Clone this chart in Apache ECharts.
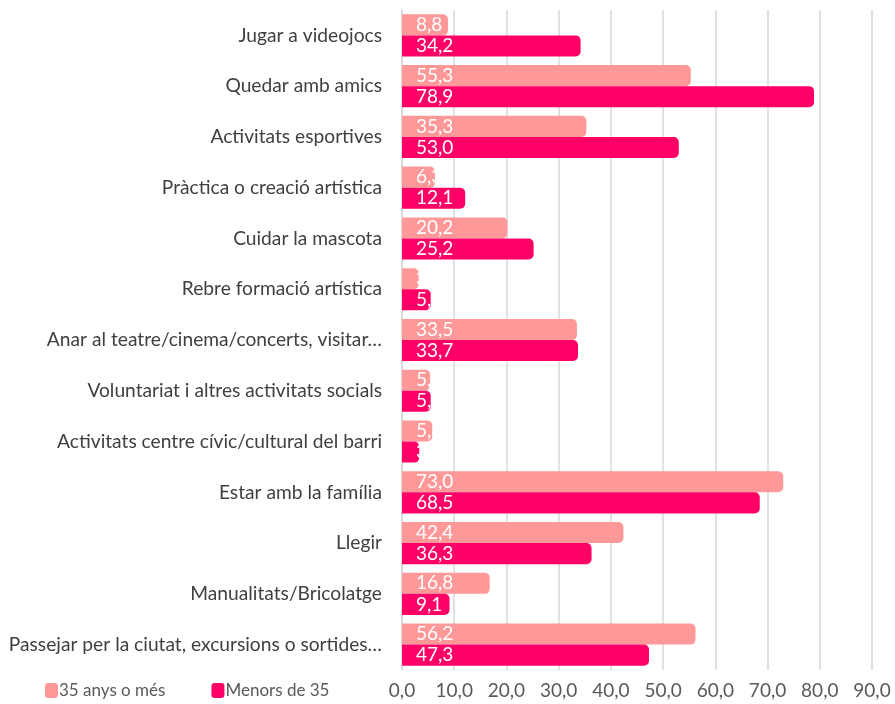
<!DOCTYPE html>
<html><head><meta charset="utf-8">
<script src="https://cdn.jsdelivr.net/npm/echarts@6/dist/echarts.min.js"></script>
<style>html,body{margin:0;padding:0;background:#fff}#c{width:895px;height:704px}</style>
</head><body><div id="c"></div>
<script>
const categories = [
  "Jugar a videojocs",
  "Quedar amb amics",
  "Activitats esportives",
  "Pràctica o creació artística",
  "Cuidar la mascota",
  "Rebre formació artística",
  "Anar al teatre/cinema/concerts, visitar…",
  "Voluntariat i altres activitats socials",
  "Activitats centre cívic/cultural del barri",
  "Estar amb la família",
  "Llegir",
  "Manualitats/Bricolatge",
  "Passejar per la ciutat, excursions o sortides…"
];
const seriesNames = ["35 anys o més", "Menors de 35"];
const older = [8.8, 55.3, 35.3, 6.3, 20.2, 3.2, 33.5, 5.4, 5.8, 73.0, 42.4, 16.8, 56.2];
const younger = [34.2, 78.9, 53.0, 12.1, 25.2, 5.5, 33.7, 5.5, 3.3, 68.5, 36.3, 9.1, 47.3];
const xTicks = { min: 0, max: 90, interval: 10 };

const fmt = v => v.toFixed(1).replace('.', ',');
const font = "Lato, 'Open Sans', sans-serif";
const chart = echarts.init(document.getElementById('c'));
const label = {
  show: true, position: 'insideLeft', distance: 14, color: '#fff',
  fontSize: 19, fontFamily: font,
  formatter: p => fmt(p.value)
};
chart.setOption({
  animation: false,
  textStyle: { fontFamily: font },
  grid: { left: 402, right: 23, top: 10, bottom: 34, containLabel: false },
  legend: {
    left: 40, bottom: 0, itemWidth: 13, itemHeight: 15, itemGap: 46,
    icon: 'roundRect',
    textStyle: { color: '#595959', fontSize: 17, fontFamily: font, padding: [0, 0, 0, -4] },
    data: seriesNames
  },
  xAxis: {
    type: 'value', min: xTicks.min, max: xTicks.max, interval: xTicks.interval,
    axisLabel: { formatter: v => fmt(v), color: '#595959', fontSize: 19, fontFamily: font, margin: 11 },
    axisLine: { show: false }, axisTick: { show: false },
    splitLine: { lineStyle: { color: '#D9D9D9', width: 1.5 } }
  },
  yAxis: {
    type: 'category', data: categories, inverse: true,
    axisLabel: { color: '#404040', fontSize: 19.2, fontFamily: font, margin: 20 },
    axisLine: { show: true, lineStyle: { color: '#D9D9D9', width: 1.5 } },
    axisTick: { show: false }
  },
  series: [
    { name: seriesNames[0], type: 'bar', data: older, barGap: '0%', barCategoryGap: '17%',
      itemStyle: { color: '#FF9999', borderRadius: [0, 5, 5, 0] }, label },
    { name: seriesNames[1], type: 'bar', data: younger,
      itemStyle: { color: '#FF0066', borderRadius: [0, 5, 5, 0] }, label }
  ]
});
</script></body></html>
